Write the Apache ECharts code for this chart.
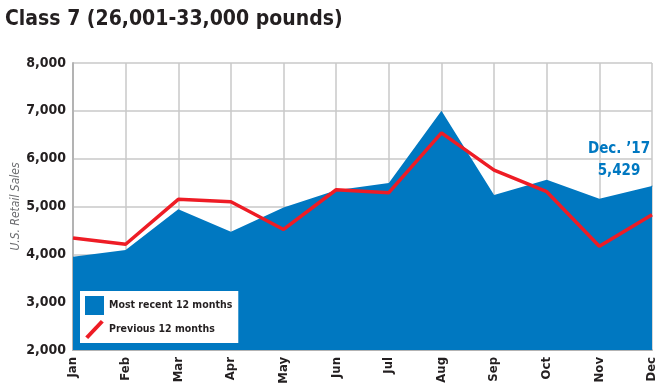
<!DOCTYPE html>
<html>
<head>
<meta charset="utf-8">
<script src="https://cdn.jsdelivr.net/npm/echarts@6/dist/echarts.min.js"></script>
<style>
html,body{margin:0;padding:0;background:#fff;}
#chart{width:660px;height:385px;}
</style>
</head>
<body>
<div id="chart"></div>
<script>
var months = ['Jan','Feb','Mar','Apr','May','Jun','Jul','Aug','Sep','Oct','Nov','Dec'];
var recent = [3950, 4090, 4940, 4470, 4980, 5340, 5490, 7000, 5240, 5560, 5160, 5429];
var previous = [4340, 4210, 5150, 5100, 4520, 5350, 5290, 6540, 5760, 5310, 4170, 4830];
var yTicks = [2000, 3000, 4000, 5000, 6000, 7000, 8000];
var titleText = 'Class 7 (26,001-33,000 pounds)';
var yName = 'U.S. Retail Sales';
var seriesNames = ['Most recent 12 months', 'Previous 12 months'];
var calloutTitle = "Dec. \u201917";

var FONT = '"Liberation Sans Narrow","DejaVu Sans Condensed","Roboto Condensed",sans-serif';
var BLUE = '#0078c1';
var RED = '#ee1c25';

var recentData = recent.map(function (v, i) {
  if (i === recent.length - 1) {
    return {
      value: v,
      symbol: 'circle',
      symbolSize: 1,
      label: {
        show: true,
        position: 'top',
        offset: [-33, 2],
        align: 'center',
        color: BLUE,
        fontFamily: FONT,
        fontWeight: 'bold',
        fontSize: 15,
        lineHeight: 22,
        formatter: function (p) { return calloutTitle + '\n' + p.value.toLocaleString('en-US'); }
      }
    };
  }
  return v;
});

var chart = echarts.init(document.getElementById('chart'), null, {renderer: 'canvas'});
chart.setOption({
  animation: false,
  backgroundColor: '#fff',
  title: {
    text: titleText,
    left: 0,
    top: 4,
    textStyle: {fontFamily: FONT, fontWeight: 'bold', fontSize: 21, color: '#231f20'}
  },
  grid: {left: 73, right: 8, top: 63, bottom: 35, outerBoundsMode: 'none', containLabel: false},
  legend: {
    orient: 'vertical',
    left: 80,
    top: 291,
    backgroundColor: '#fff',
    padding: [5, 6, 4, 5],
    itemGap: 5,
    itemWidth: 19,
    itemHeight: 19,
    textStyle: {fontFamily: FONT, fontWeight: 'bold', fontSize: 10.5, color: '#231f20'},
    data: [
      {name: seriesNames[0], icon: 'rect', itemStyle: {color: BLUE}},
      {name: seriesNames[1], icon: 'path://M0,17 L16,0 L19,2.5 L3,19.5 Z', itemStyle: {color: RED}}
    ]
  },
  xAxis: {
    type: 'category',
    data: months,
    boundaryGap: false,
    axisLine: {show: true, lineStyle: {color: '#b3b3b3', width: 2}},
    axisTick: {show: false},
    splitLine: {show: true, lineStyle: {color: '#c8c8c8', width: 1.5}},
    axisLabel: {
      rotate: 90,
      interval: 0,
      margin: 7,
      fontFamily: FONT,
      fontWeight: 'bold',
      fontSize: 13,
      color: '#231f20'
    }
  },
  yAxis: {
    type: 'value',
    min: 2000,
    max: 8000,
    interval: 1000,
    name: yName,
    nameLocation: 'middle',
    nameGap: 51,
    nameMoveOverlap: false,
    nameTextStyle: {fontFamily: FONT, fontStyle: 'italic', fontSize: 12, color: '#6d6e71'},
    axisLine: {show: true, lineStyle: {color: '#b3b3b3', width: 2}},
    axisTick: {show: false},
    splitLine: {show: true, lineStyle: {color: '#c8c8c8', width: 1.5}},
    axisLabel: {
      margin: 7,
      fontFamily: FONT,
      fontWeight: 'bold',
      fontSize: 14,
      color: '#231f20',
      formatter: function (v) { return v.toLocaleString('en-US'); }
    }
  },
  series: [
    {
      name: seriesNames[0],
      type: 'line',
      data: recentData,
      symbol: 'none',
      lineStyle: {width: 0, color: BLUE},
      itemStyle: {color: BLUE},
      areaStyle: {color: BLUE, opacity: 1, origin: 'start'},
      z: 2
    },
    {
      name: seriesNames[1],
      type: 'line',
      data: previous,
      symbol: 'none',
      lineStyle: {width: 3.5, color: RED},
      itemStyle: {color: RED},
      z: 3
    }
  ]
});
</script>
</body>
</html>
